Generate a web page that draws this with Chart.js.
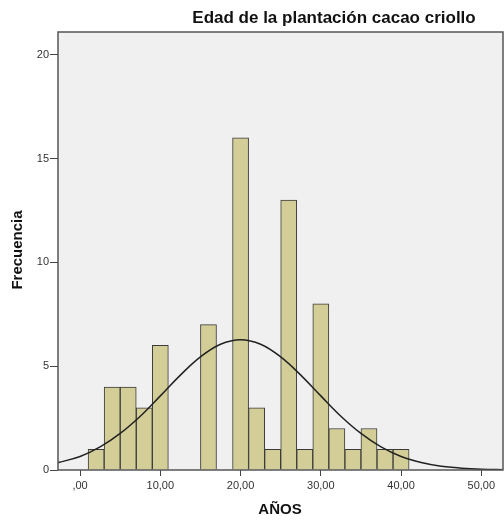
<!DOCTYPE html>
<html>
<head>
<meta charset="utf-8">
<script src="https://cdn.jsdelivr.net/npm/chart.js@4/dist/chart.umd.min.js"></script>
<style>
  body { margin: 0; background: #fff; }
  canvas { display: block; }
</style>
</head>
<body>
<canvas id="hist" width="504" height="521"></canvas>
<script>
// histogram bins (midpoints, width 2) and counts
const binMid = [2, 4, 6, 8, 10, 16, 20, 22, 24, 26, 28, 30, 32, 34, 36, 38, 40];
const freq   = [1, 4, 4, 3, 6, 7, 16, 3, 1, 13, 1, 8, 2, 1, 2, 1, 1];

// normal curve
const curveX = [-3, 0, 2.5, 5, 7.5, 10, 12.5, 15, 17.5, 20, 22.5, 25, 27.5, 30, 32.5, 35, 37.5, 40, 42.5, 45, 47.5, 50, 53];
const curveY = [0.33, 0.65, 1.11, 1.76, 2.59, 3.57, 4.57, 5.45, 6.06, 6.28, 6.06, 5.45, 4.57, 3.57, 2.59, 1.76, 1.11, 0.65, 0.36, 0.18, 0.09, 0.04, 0.015];

const xTicks = [0, 10, 20, 30, 40, 50];
const yTicks = [0, 5, 10, 15, 20];

const titulo = "Edad de la plantación cacao criollo";
const tituloX = "AÑOS";
const tituloY = "Frecuencia";

const spssPlugin = {
    id: "spss",
    beforeDraw(chart) {
        const a = chart.chartArea, ctx = chart.ctx;
        ctx.save();
        ctx.fillStyle = "#f0f0f0";
        ctx.fillRect(a.left, a.top, a.right - a.left, a.bottom - a.top);
        ctx.restore();
    },
    afterDraw(chart) {
        const a = chart.chartArea, ctx = chart.ctx;
        ctx.save();
        ctx.strokeStyle = "#555";
        ctx.lineWidth = 1.5;
        ctx.strokeRect(a.left, a.top, a.right - a.left, a.bottom - a.top);

        ctx.fillStyle = "#111";
        ctx.textAlign = "center";
        ctx.textBaseline = "middle";
        ctx.font = "bold 17px 'Liberation Sans', Arial, sans-serif";
        ctx.fillText(titulo, 334, 18);

        ctx.font = "bold 15px 'Liberation Sans', Arial, sans-serif";
        ctx.fillText(tituloX, 280, 510);

        ctx.translate(18, 250);
        ctx.rotate(-Math.PI / 2);
        ctx.fillText(tituloY, 0, 0);
        ctx.restore();
    }
};

new Chart(document.getElementById("hist"), {
    type: "bar",
    data: {
        datasets: [
            {
                type: "line",
                data: curveX.map((x, i) => ({ x: x, y: curveY[i] })),
                borderColor: "#222",
                borderWidth: 1.5,
                pointRadius: 0,
                tension: 0.4,
                fill: false,
                order: 0
            },
            {
                type: "bar",
                data: binMid.map((x, i) => ({ x: x, y: freq[i] })),
                backgroundColor: "#d3ce97",
                borderColor: "#3a3a3a",
                borderWidth: 1,
                barPercentage: 1,
                categoryPercentage: 1,
                order: 1
            }
        ]
    },
    options: {
        responsive: false,
        animation: false,
        layout: { padding: { top: 32, right: 1, left: 0, bottom: 0 } },
        plugins: {
            legend: { display: false },
            tooltip: { enabled: false }
        },
        scales: {
            x: {
                type: "linear",
                min: -2.75,
                max: 52.7,
                offset: false,
                afterBuildTicks: s => { s.ticks = xTicks.map(v => ({ value: v })); },
                afterFit: s => { s.height = 51; },
                border: { display: false },
                grid: { offset: false, drawOnChartArea: false, drawTicks: true, tickLength: 6, color: "#444" },
                ticks: {
                    padding: 3,
                    color: "#333",
                    font: { size: 11, family: "'Liberation Sans', Arial, sans-serif" },
                    callback: v => v === 0 ? ",00" : v.toFixed(2).replace(".", ",")
                }
            },
            y: {
                min: 0,
                max: 21.1,
                afterBuildTicks: s => { s.ticks = yTicks.map(v => ({ value: v })); },
                afterFit: s => { s.width = 58; },
                border: { display: false },
                grid: { drawOnChartArea: false, drawTicks: true, tickLength: 8, color: "#444" },
                ticks: {
                    padding: 1,
                    color: "#333",
                    font: { size: 11, family: "'Liberation Sans', Arial, sans-serif" }
                }
            }
        }
    },
    plugins: [spssPlugin]
});
</script>
</body>
</html>
